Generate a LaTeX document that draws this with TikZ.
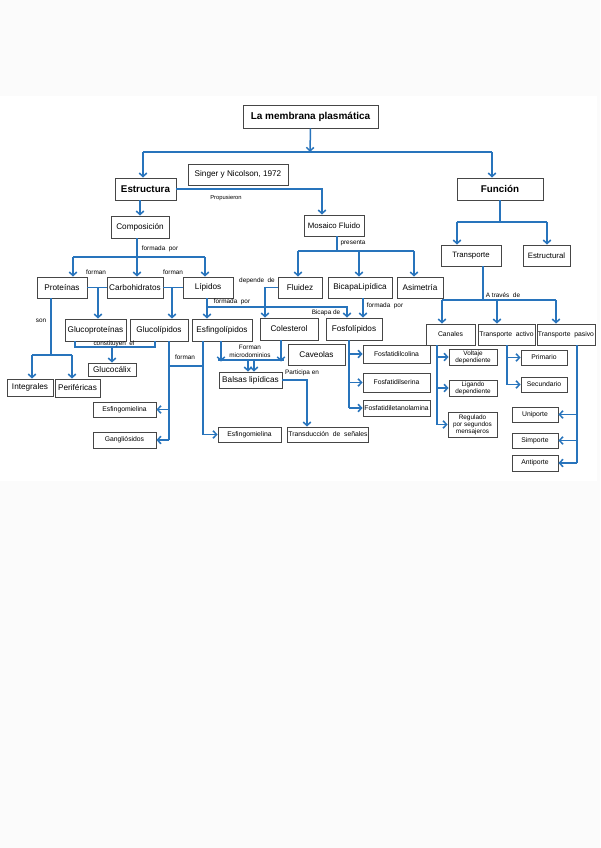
\documentclass[tikz,border=0pt]{standalone}
\usepackage{fontspec}
\setmainfont{Liberation Sans}
\usetikzlibrary{arrows.meta}
\definecolor{cblue}{RGB}{40,116,188}
\definecolor{cbox}{RGB}{70,70,70}
\definecolor{cpage}{RGB}{251,251,251}
\begin{document}
\begin{tikzpicture}[x=1pt,y=-1pt,
  bx/.style={draw=cbox, line width=0.7pt, fill=white, inner sep=0.8pt, align=center},
  sz/.style 2 args={minimum width=#1pt, minimum height=#2pt},
  fT/.style={font=\fontsize{10}{11}\selectfont\bfseries},
  fB/.style={font=\fontsize{9.8}{10}\selectfont\bfseries},
  fM/.style={font=\fontsize{8.2}{9}\selectfont},
  fN/.style={font=\fontsize{7.8}{8.5}\selectfont},
  fS/.style={font=\fontsize{6.8}{7.2}\selectfont},
  fX/.style={font=\fontsize{6.4}{6.9}\selectfont},
  lb/.style={inner sep=0pt, align=center, font=\fontsize{6.4}{8.5}\selectfont},
  ln/.style={draw=cblue, line width=1.5pt},
  arr/.style={ln, -{Straight Barb[length=3.6pt,width=7.5pt]}}
]
\useasboundingbox (0,0) rectangle (600,848);
\fill[cpage] (0,0) rectangle (600,848);
\fill[white] (0,96) rectangle (597,481);

% ---------- nodes ----------
\node[bx,fT,sz={135}{23}] (title) at (310.5,116.5) {La membrana plasmática};
\node[bx,fM,sz={100}{21}] (singer) at (238,174.5) {Singer y Nicolson, 1972};
\node[bx,fB,sz={61}{22}] (estr) at (145.5,189) {Estructura};
\node[bx,fB,sz={86}{22}] (func) at (500,189) {Función};
\node[bx,fM,sz={58}{22}] (comp) at (140,227) {Composición};
\node[bx,fN,sz={60}{21}] (mos) at (334,225.5) {Mosaico Fluido};
\node[bx,fN,sz={60}{21}] (transp) at (471,255.5) {Transporte};
\node[bx,fN,sz={47}{21}] (estrl) at (546.5,255.5) {Estructural};
\node[bx,fM,sz={50}{21}] (prot) at (62,287.5) {Proteínas};
\node[bx,fM,sz={56}{21}] (carb) at (135,287.5) {Carbohidratos};
\node[bx,fM,sz={50}{21}] (lip) at (208,287.5) {Lípidos};
\node[bx,fM,sz={44}{21}] (flu) at (300,287.5) {Fluidez};
\node[bx,fM,sz={64}{21}] (bic) at (360,287.5) {BicapaLipídica};
\node[bx,fM,sz={46}{21}] (asi) at (420,287.5) {Asimetría};
\node[bx,fM,sz={61}{22}] (gprot) at (95.5,330) {Glucoproteínas};
\node[bx,fM,sz={58}{22}] (glip) at (159,330) {Glucolípidos};
\node[bx,fM,sz={60}{22}] (eslip) at (222,330) {Esfingolípidos};
\node[bx,fM,sz={58}{22}] (col) at (289,329) {Colesterol};
\node[bx,fM,sz={56}{22}] (fos) at (354,329) {Fosfolípidos};
\node[bx,fS,sz={49}{21}] (can) at (450.5,334.5) {Canales};
\node[bx,fS,sz={57}{21}] (tac) at (506.5,334.5) {Transporte\ \ activo};
\node[bx,fS,sz={58}{21}] (tpa) at (566,334.5) {Transporte\ \ pasivo};
\node[bx,fM,sz={46}{17}] (int) at (30,387.5) {Integrales};
\node[bx,fM,sz={45}{18}] (per) at (77.5,388) {Periféricas};
\node[bx,fM,sz={48}{13}] (gcal) at (112,369.5) {Glucocálix};
\node[bx,fS,sz={63}{15}] (esm1) at (124.5,409.5) {Esfingomielina};
\node[bx,fS,sz={63}{16}] (gang) at (124.5,440) {Gangliósidos};
\node[bx,fS,sz={63}{15}] (esm2) at (249.5,434.5) {Esfingomielina};
\node[bx,fM,sz={63}{16}] (bal) at (250.5,380) {Balsas lipídicas};
\node[bx,fM,sz={57}{21}] (cav) at (316.5,354.5) {Caveolas};
\node[bx,fS,sz={80}{15}] (trd) at (328,434.5) {Transducción\ \ de\ \ señales};
\node[bx,fS,sz={67}{18}] (fco) at (396.5,354) {Fosfatidilcolina};
\node[bx,fS,sz={67}{19}] (fse) at (396.5,382.5) {Fosfatidilserina};
\node[bx,fS,sz={67}{16}] (fet) at (396.5,408) {Fosfatidiletanolamina};
\node[bx,fX,sz={48}{16}] (vol) at (473,357) {Voltaje\\dependiente};
\node[bx,fX,sz={48}{16}] (lig) at (473,388) {Ligando\\dependiente};
\node[bx,fX,sz={49}{25}] (reg) at (472.5,424.5) {Regulado\\por segundos\\mensajeros};
\node[bx,fS,sz={46}{15}] (pri) at (544,357.5) {Primario};
\node[bx,fS,sz={46}{15}] (sec) at (544,384.5) {Secundario};
\node[bx,fS,sz={46}{15}] (uni) at (535,414.5) {Uniporte};
\node[bx,fS,sz={46}{15}] (sim) at (535,440.5) {Simporte};
\node[bx,fS,sz={46}{16}] (ant) at (535,463) {Antiporte};

% ---------- junction coordinates ----------
\coordinate (t0) at (310,152);
\coordinate (tL) at (143,152);
\coordinate (tR) at (492,152);
\coordinate (m0) at (322,189);
\coordinate (f0) at (500,222);
\coordinate (fL) at (457,222);
\coordinate (fR) at (547,222);
\coordinate (c0) at (137,257);
\coordinate (cL) at (73,257);
\coordinate (cR) at (205,257);
\coordinate (pc) at (98,287.5);
\coordinate (cl) at (172,287.5);
\coordinate (p1) at (51,355);
\coordinate (pL) at (32,355);
\coordinate (pR) at (72,355);
\coordinate (g1) at (75,347);
\coordinate (g2) at (155,347);
\coordinate (g0) at (112,347);
\coordinate (h1) at (169,366);
\coordinate (h2) at (203,366);
\coordinate (k1) at (221,360);
\coordinate (k2) at (281,360);
\coordinate (k1e) at (218,360);
\coordinate (k2e) at (284,360);
\coordinate (k3) at (248,360);
\coordinate (k4) at (254,360);
\coordinate (b1) at (307,380);
\coordinate (d1) at (265,287.5);
\coordinate (l1) at (207,307);
\coordinate (l2) at (347,307);
\coordinate (bb) at (363,300);
\coordinate (q0) at (337,251);
\coordinate (qL) at (298,251);
\coordinate (qM) at (359,251);
\coordinate (qR) at (414,251);
\coordinate (s1) at (349,380);
\coordinate (r0) at (483,300);
\coordinate (rL) at (442,300);
\coordinate (rM) at (497,300);
\coordinate (rR) at (556,300);
\coordinate (v1) at (437,380);
\coordinate (a1) at (507,380);
\coordinate (w1) at (577,380);

% ---------- connectors ----------
\draw[arr] (title.south) -- (t0);
\draw[ln] (tL) -- (tR);
\draw[arr] (tL) -- (tL |- estr.north);
\draw[arr] (tR) -- (tR |- func.north);

\draw[arr] (estr.east) -- (m0) -- (m0 |- mos.north);
\node[lb,font=\fontsize{5.8}{6}\selectfont] (lprop) at (226,197.5) {Propusieron};

\draw[arr] (comp.north |- estr.south) -- (comp.north);

\draw[ln] (func.south) -- (f0);
\draw[ln] (fL) -- (fR);
\draw[arr] (fL) -- (fL |- transp.north);
\draw[arr] (fR) -- (fR |- estrl.north);

\draw[ln] (c0 |- comp.south) -- (c0);
\draw[ln] (cL) -- (cR);
\draw[arr] (cL) -- (cL |- prot.north);
\draw[arr] (c0) -- (c0 |- carb.north);
\draw[arr] (cR) -- (cR |- lip.north);
\node[lb] (lfp1) at (160,249) {formada\ \ por};

\draw[ln] (prot.east) -- (carb.west);
\draw[arr] (pc) -- (pc |- gprot.north);
\draw[ln] (carb.east) -- (lip.west);
\draw[arr] (cl) -- (cl |- glip.north);
\node[lb] (lfo1) at (96,272) {forman};
\node[lb] (lfo2) at (173,272) {forman};

\draw[ln] (p1 |- prot.south) -- (p1);
\draw[ln] (pL) -- (pR);
\draw[arr] (pL) -- (pL |- int.north);
\draw[arr] (pR) -- (pR |- per.north);
\node[lb] (lson) at (41,321) {son};

\draw[ln] (g1 |- gprot.south) -- (g1) -- (g2) -- (g2 |- glip.south);
\draw[arr] (g0) -- (g0 |- gcal.north);
\node[lb] (lcons) at (114,343.5) {constituyen\ \ el};

\draw[ln] (h1 |- glip.south) -- (h1 |- gang.east);
\draw[arr] (h1 |- esm1.east) -- (esm1.east);
\draw[arr] (h1 |- gang.east) -- (gang.east);
\draw[ln] (h1) -- (h2);
\draw[ln] (h2 |- eslip.south) -- (h2 |- esm2.west);
\draw[arr] (h2 |- esm2.west) -- (esm2.west);
\node[lb] (lfo3) at (185,357) {forman};

\draw[arr] (k1 |- eslip.south) -- ([yshift=-1.5pt]k1);
\draw[arr] (k2 |- col.south) -- ([yshift=-1.5pt]k2);
\draw[ln] (k1e) -- (k2e);
\draw[arr] (k3) -- (k3 |- bal.north);
\draw[arr] (k4) -- (k4 |- bal.north);
\node[lb] (lmic) at (250,351.5) {Forman\\microdominios};

\draw[arr] (bal.east) -- (b1) -- (b1 |- trd.north);
\node[lb] (lpar) at (302,373) {Participa en};

\draw[arr] (flu.west) -- (d1) -- (d1 |- col.north);
\node[lb] (ldep) at (257,281) {depende\ \ de};

\draw[arr] (l1 |- lip.south) -- (l1 |- eslip.north);
\draw[arr] (l1) -- (l2) -- (l2 |- fos.north);
\node[lb] (lfp2) at (232,301.5) {formada\ \ por};
\node[lb] (lbic) at (326,313) {Bicapa de};

\draw[arr] (bb |- bic.south) -- (bb |- fos.north);
\node[lb] (lfp3) at (385,306) {formada\ \ por};

\draw[ln] (q0 |- mos.south) -- (q0);
\draw[ln] (qL) -- (qR);
\draw[arr] (qL) -- (qL |- flu.north);
\draw[arr] (qM) -- (qM |- bic.north);
\draw[arr] (qR) -- (qR |- asi.north);
\node[lb] (lpre) at (353,243.5) {presenta};

\draw[ln] (s1 |- fos.south) -- (s1 |- fet.west);
\draw[arr] (s1 |- fco.west) -- (fco.west);
\draw[arr] (s1 |- fse.west) -- (fse.west);
\draw[arr] (s1 |- fet.west) -- (fet.west);

\draw[ln] (r0 |- transp.south) -- (r0);
\draw[ln] (rL) -- (rR);
\draw[arr] (rL) -- (rL |- can.north);
\draw[arr] (rM) -- (rM |- tac.north);
\draw[arr] (rR) -- (rR |- tpa.north);
\node[lb] (latr) at (503,295) {A través\ \ de};

\draw[ln] (v1 |- can.south) -- (v1 |- reg.west);
\draw[arr] (v1 |- vol.west) -- (vol.west);
\draw[arr] (v1 |- lig.west) -- (lig.west);
\draw[arr] (v1 |- reg.west) -- (reg.west);

\draw[ln] (a1 |- tac.south) -- (a1 |- sec.west);
\draw[arr] (a1 |- pri.west) -- (pri.west);
\draw[arr] (a1 |- sec.west) -- (sec.west);

\draw[ln] (w1 |- tpa.south) -- (w1 |- ant.east);
\draw[arr] (w1 |- uni.east) -- (uni.east);
\draw[arr] (w1 |- sim.east) -- (sim.east);
\draw[arr] (w1 |- ant.east) -- (ant.east);
\end{tikzpicture}
\end{document}
